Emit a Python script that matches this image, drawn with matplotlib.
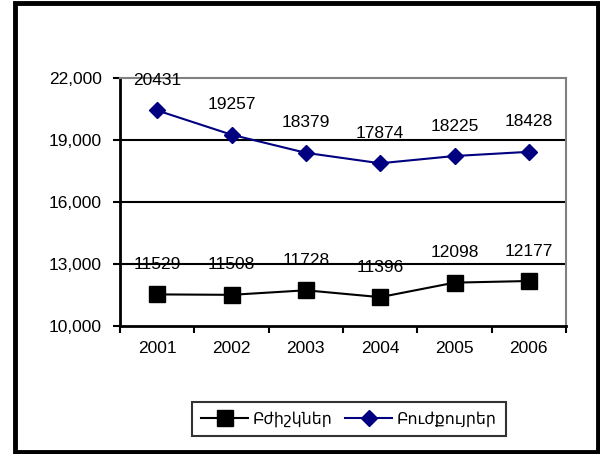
import matplotlib
matplotlib.use("Agg")
import matplotlib.pyplot as plt
from matplotlib.patches import Rectangle
from matplotlib.ticker import FuncFormatter, FixedLocator

plt.rcParams['font.family'] = ['Liberation Sans', 'DejaVu Sans']

years = ['2001', '2002', '2003', '2004', '2005', '2006']
doctors = [11529, 11508, 11728, 11396, 12098, 12177]
nurses = [20431, 19257, 18379, 17874, 18225, 18428]
doctors_label = 'Բժիշկներ'
nurses_label = 'Բուժքույրեր'

FS = 12.5

fig = plt.figure(figsize=(6.0, 4.54), dpi=100)
ax = fig.add_axes([120/600, 1-326/454, 446/600, 248/454])

x = list(range(len(years)))
ax.set_xlim(-0.5, len(years) - 0.5)
ax.set_ylim(10000, 22000)

for yv in [13000, 16000, 19000]:
    ax.axhline(yv, color='black', lw=1.5, zorder=1)

l1, = ax.plot(x, doctors, color='black', lw=1.5, marker='s', markersize=11,
              markerfacecolor='black', markeredgecolor='black', label=doctors_label, zorder=3)
l2, = ax.plot(x, nurses, color='#000080', lw=1.5, marker='D', markersize=8,
              markerfacecolor='#000080', markeredgecolor='#000080', label=nurses_label, zorder=3)

for xi, v in zip(x, doctors):
    ax.annotate(str(v), (xi, v), xytext=(0, 30), textcoords='offset pixels',
                ha='center', va='center', fontsize=FS, zorder=4)
for xi, v in zip(x, nurses):
    ax.annotate(str(v), (xi, v), xytext=(0, 30), textcoords='offset pixels',
                ha='center', va='center', fontsize=FS, zorder=4)

ax.set_yticks([10000, 13000, 16000, 19000, 22000])
ax.yaxis.set_major_formatter(FuncFormatter(lambda v, p: f'{int(v):,}'))
ax.xaxis.set_major_locator(FixedLocator([i - 0.5 for i in range(len(years) + 1)]))
ax.xaxis.set_minor_locator(FixedLocator(x))
ax.set_xticklabels([])
ax.set_xticklabels(years, minor=True)
ax.tick_params(axis='x', which='major', length=5, width=1.5, direction='out')
ax.tick_params(axis='x', which='minor', length=0, labelsize=FS, pad=11)
ax.tick_params(axis='y', length=5, width=1.5, direction='out', labelsize=FS, pad=8)

ax.spines['left'].set_linewidth(2)
ax.spines['bottom'].set_linewidth(2)
ax.spines['left'].set_color('black')
ax.spines['bottom'].set_color('black')
ax.spines['top'].set_color('#808080')
ax.spines['right'].set_color('#808080')
ax.spines['top'].set_linewidth(1.5)
ax.spines['right'].set_linewidth(1.5)

leg = fig.legend(handles=[l1, l2], loc='center', bbox_to_anchor=(349/600, 1-419/454),
                 ncol=2, frameon=True, fancybox=False, fontsize=11.3,
                 handlelength=3.0, columnspacing=0.8, handletextpad=0.3,
                 borderpad=0.6, borderaxespad=0)
leg.get_frame().set_edgecolor('black')
leg.get_frame().set_linewidth(1.5)

fig.patches.append(Rectangle((15/600, 2/454), 583/600, 449.5/454, transform=fig.transFigure,
                             fill=False, edgecolor='black', lw=3.5))

fig.savefig('out.png', dpi=100)
